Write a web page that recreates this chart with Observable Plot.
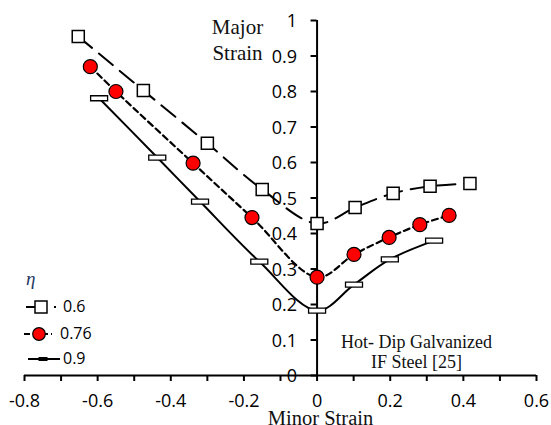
<!DOCTYPE html>
<html><head><meta charset="utf-8">
<script src="https://cdn.jsdelivr.net/npm/d3@7"></script>
<script src="https://cdn.jsdelivr.net/npm/@observablehq/plot@0.6"></script>
<style>
html,body{margin:0;padding:0;background:#fff;}
#wrap{position:relative;width:551px;height:425px;overflow:hidden;}
</style></head><body><div id="wrap"></div>
<script>
// ---- data ----
const seriesNames = ["0.6", "0.76", "0.9"];
const minor06  = [-0.653, -0.475, -0.300, -0.150, 0.000, 0.104, 0.208, 0.309, 0.418];
const major06  = [ 0.955,  0.803,  0.654,  0.524, 0.428, 0.473, 0.513, 0.533, 0.541];
const minor076 = [-0.620, -0.550, -0.339, -0.178, 0.000, 0.101, 0.197, 0.281, 0.361];
const major076 = [ 0.870,  0.800,  0.598,  0.445, 0.277, 0.341, 0.389, 0.425, 0.451];
const minor09  = [-0.596, -0.437, -0.320, -0.158, 0.000, 0.101, 0.199, 0.320];
const major09  = [ 0.781,  0.614,  0.490,  0.321, 0.183, 0.256, 0.327, 0.380];
const xTickLabels = [-0.8, -0.6, -0.4, -0.2, 0, 0.2, 0.4, 0.6];
const xTickMarks  = [-0.8, -0.7, -0.6, -0.5, -0.4, -0.3, -0.2, -0.1, 0, 0.1, 0.2, 0.3, 0.4, 0.5, 0.6];
const yTicks      = [0, 0.1, 0.2, 0.3, 0.4, 0.5, 0.6, 0.7, 0.8, 0.9, 1];

const toRows = (xs, ys) => xs.map((x, i) => ({x, y: ys[i]}));
const d06 = toRows(minor06, major06);
const d076 = toRows(minor076, major076);
const d09 = toRows(minor09, major09);

const dashSymbol = {draw(ctx) {
  ctx.moveTo(-8.5, -2.5); ctx.lineTo(8.5, -2.5); ctx.lineTo(8.5, 2.5); ctx.lineTo(-8.5, 2.5); ctx.closePath();
}};

const sans = "'Open Sans', sans-serif";
const serif = "'Liberation Serif', 'Times New Roman', serif";

const plot = Plot.plot({
  width: 551, height: 425,
  marginLeft: 24, marginRight: 15, marginTop: 20, marginBottom: 50,
  x: {domain: [-0.8, 0.6], axis: null},
  y: {domain: [0, 1], axis: null},
  style: {background: "#fff", overflow: "visible"},
  marks: [
    // series lines
    Plot.line(d06, {x: "x", y: "y", curve: "catmull-rom", stroke: "#000", strokeWidth: 2, strokeDasharray: "18,9"}),
    Plot.line(d076, {x: "x", y: "y", curve: "catmull-rom", stroke: "#000", strokeWidth: 2.2, strokeDasharray: "6,4"}),
    Plot.line(d09, {x: "x", y: "y", curve: "catmull-rom", stroke: "#000", strokeWidth: 2}),
    // axes
    Plot.ruleY([0], {stroke: "#000", strokeWidth: 2}),
    Plot.ruleX(xTickMarks, {y1: 0, y2: 0, insetBottom: -6, stroke: "#000", strokeWidth: 2}),
    Plot.ruleX([0], {y1: 0, y2: 1, stroke: "#000", strokeWidth: 2}),
    Plot.ruleY(yTicks, {x1: 0, x2: 0, insetLeft: -6, stroke: "#000", strokeWidth: 2}),
    Plot.text(xTickLabels, {x: d => d, y: 0, text: d => String(d), dy: 26, fontSize: 18, fontFamily: sans, fill: "#000"}),
    Plot.text(yTicks, {x: 0, y: d => d, text: d => String(d), textAnchor: "end", dx: -20, dy: 1, fontSize: 18, fontFamily: sans, fill: "#000"}),
    // markers
    Plot.dot(d06, {x: "x", y: "y", symbol: "square", r: 6.8, fill: "#fff", stroke: "#000", strokeWidth: 1.5}),
    Plot.dot(d076, {x: "x", y: "y", symbol: "circle", r: 7, fill: "#ff0000", stroke: "#000", strokeWidth: 1.2}),
    Plot.dot(d09, {x: "x", y: "y", symbol: dashSymbol, fill: "#fff", stroke: "#000", strokeWidth: 1.3}),
    // annotations
    Plot.text(["Major\nStrain"], {frameAnchor: "top-left", textAnchor: "middle", dx: 213, dy: -4, lineAnchor: "top", lineHeight: 1.2, fontSize: 21, fontFamily: serif, fill: "#111"}),
    Plot.text(["Minor Strain"], {frameAnchor: "bottom", textAnchor: "middle", dx: 40, dy: 49, lineAnchor: "bottom", fontSize: 20.5, fontFamily: serif, fill: "#111"}),
    Plot.text(["Hot- Dip Galvanized\nIF Steel [25]"], {frameAnchor: "bottom", textAnchor: "middle", dx: 136, dy: -8, lineAnchor: "bottom", lineHeight: 1.11, fontSize: 18, fontFamily: serif, fill: "#111"})
  ]
});

document.getElementById("wrap").appendChild(plot);

// legend
const svg = d3.select(plot);
const lg = svg.append("g").attr("text-anchor", "start");
lg.append("text").attr("x", 26).attr("y", 285).attr("font-family", serif).attr("font-style", "italic")
  .attr("font-size", 19).attr("fill", "#1f3864").text("η");
// row 1
lg.append("line").attr("x1", 26).attr("x2", 56).attr("y1", 307).attr("y2", 307)
  .attr("stroke", "#000").attr("stroke-width", 2).attr("stroke-dasharray", "17,11");
lg.append("rect").attr("x", 35).attr("y", 301).attr("width", 12).attr("height", 12)
  .attr("fill", "#fff").attr("stroke", "#000").attr("stroke-width", 1.5);
lg.append("text").attr("x", 63).attr("y", 312).attr("font-family", sans).attr("font-size", 16).attr("fill", "#000").text(seriesNames[0]);
// row 2
lg.append("line").attr("x1", 24).attr("x2", 52).attr("y1", 334).attr("y2", 334)
  .attr("stroke", "#000").attr("stroke-width", 2.2).attr("stroke-dasharray", "6,3");
lg.append("circle").attr("cx", 39).attr("cy", 334).attr("r", 6.3)
  .attr("fill", "#ff0000").attr("stroke", "#000").attr("stroke-width", 1.2);
lg.append("text").attr("x", 60).attr("y", 339).attr("font-family", sans).attr("font-size", 16).attr("fill", "#000").text(seriesNames[1]);
// row 3
lg.append("line").attr("x1", 28).attr("x2", 60).attr("y1", 359).attr("y2", 359)
  .attr("stroke", "#000").attr("stroke-width", 2);
lg.append("rect").attr("x", 39).attr("y", 357.5).attr("width", 8).attr("height", 3)
  .attr("fill", "#000").attr("stroke", "#000").attr("stroke-width", 1);
lg.append("text").attr("x", 63).attr("y", 364).attr("font-family", sans).attr("font-size", 16).attr("fill", "#000").text(seriesNames[2]);
</script></body></html>
